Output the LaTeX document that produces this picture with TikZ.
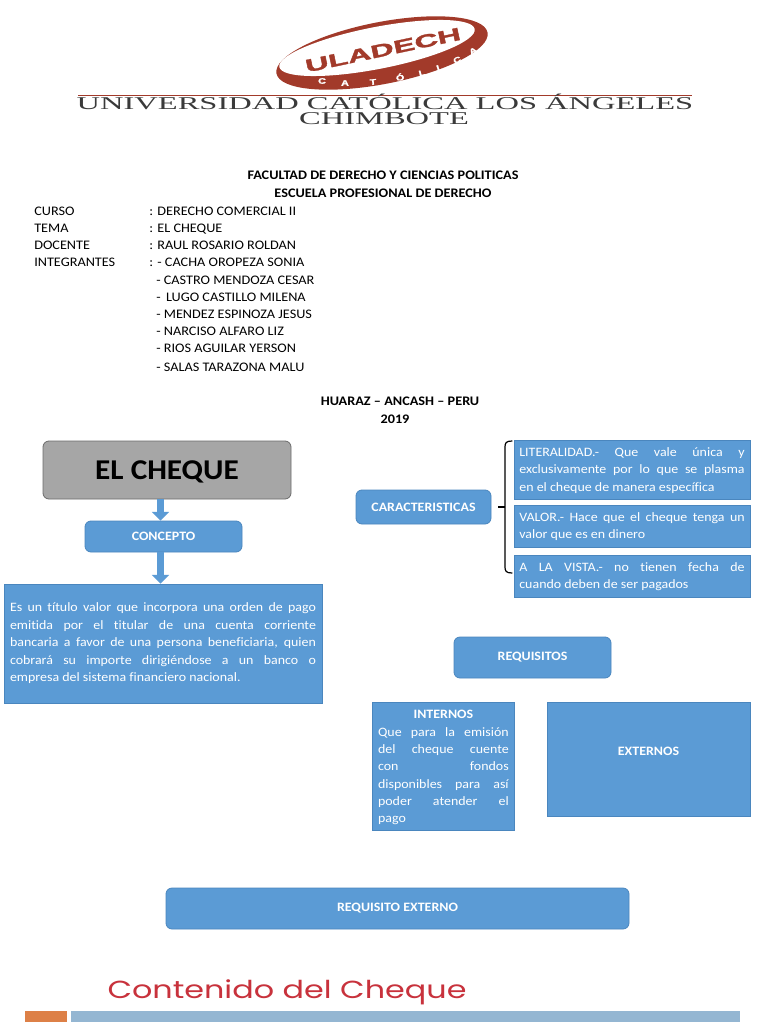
\documentclass[tikz,border=0pt]{standalone}
\usepackage{fontspec}
\usepackage{graphicx}
\setmainfont{Carlito}[FakeStretch=1.09,Ligatures=NoCommon]
\newfontfamily\serifhead{Liberation Serif}
\newfontfamily\logofont{Liberation Sans}[BoldFeatures={FakeBold=1.5}]
\newfontfamily\gothic{Poppins}
\usetikzlibrary{arrows.meta}
\definecolor{boxblue}{HTML}{5B9BD5}
\definecolor{boxedge}{HTML}{4A86BE}
\definecolor{logored}{HTML}{A23A2A}
\definecolor{titlegrey}{HTML}{3A3A3A}
\definecolor{barblue}{HTML}{94B6D2}
\definecolor{barorange}{HTML}{DD8047}
\definecolor{banred}{HTML}{C8323C}
\newcommand{\jl}[1]{\hbox to\hsize{\spaceskip=.22em plus 10em\relax #1}}
\tikzset{
  x=.75pt,y=-.75pt,
  flatbox/.style={draw=boxedge,line width=.6pt,fill=boxblue,text=white,inner sep=0pt,font=\fontsize{9.6}{13}\selectfont,align=center},
  roundbox/.style={flatbox,rounded corners=4.5pt,font=\fontsize{9.6}{13}\selectfont\bfseries},
  headtext/.style={inner sep=0pt,font=\fontsize{9.8}{12}\selectfont\bfseries,text=black},
  listtext/.style={inner sep=0pt,anchor=base west,font=\fontsize{9.8}{12}\selectfont,text=black},
  blockarrow/.style={draw=boxblue,line width=5.2pt,-{Triangle[width=12.5pt,length=6.5pt]}},
  logoletter/.style={inner sep=0pt,text=white,font=\fontsize{6}{7}\selectfont\bfseries\logofont},
  serifline/.style={inner sep=0pt,anchor=base,text=titlegrey,font=\fontsize{15}{15}\selectfont\serifhead},
}
\begin{document}
\begin{tikzpicture}
\useasboundingbox (0,0) rectangle (768,1024);
\fill[white] (0,0) rectangle (768,1024);
% logo
\fill[logored,rotate around={11:(382,53)}] (382,53) ellipse [x radius=107.5,y radius=31];
\fill[white,rotate around={11:(377,48)}] (377,48) ellipse [x radius=99.5,y radius=21];
\node[inner sep=0pt,rotate=12,text=logored,font=\fontsize{13.5}{15}\selectfont\bfseries\logofont] (logoword) at (383,50) {\scalebox{1.8}[1]{ULADECH}};
\foreach \nm/\lx/\ly/\lr/\lt in {a/322/81/0/C,b/345/83/0/A,c/373/82/5/T,d/400/77/10/Ó,e/422/73/14/L,f/438/68/18/I,g/457/60/24/C,h/473/51/30/A}
  \node[logoletter,rotate=\lr] (cat\nm) at (\lx,\ly) {\scalebox{1.35}[1]{\lt}};
\draw[logored,line width=.7pt] (78,95) -- (692,95);
\node[serifline] (univ) at (385,109.5) {\scalebox{1.625}[.9]{UNIVERSIDAD CATÓLICA LOS ÁNGELES}};
\node[serifline] (chim) at (384,124) {\scalebox{1.625}[.9]{CHIMBOTE}};
% header
\node[headtext] (fac) at (383,175) {FACULTAD DE DERECHO Y CIENCIAS POLITICAS};
\node[headtext] (esc) at (383,193) {ESCUELA PROFESIONAL DE DERECHO};
\foreach \nm/\ty/\ta/\tb in {
  l1/215/CURSO/: DERECHO COMERCIAL II,
  l2/232/TEMA/: EL CHEQUE,
  l3/249/DOCENTE/: RAUL ROSARIO ROLDAN,
  l4/266/INTEGRANTES/: - CACHA OROPEZA SONIA}{
  \node[listtext] (\nm a) at (34,\ty) {\ta};
  \node[listtext] (\nm b) at (149,\ty) {\tb};
}
\node[listtext] (m1) at (156,284) {- CASTRO MENDOZA CESAR};
\node[listtext] (m2) at (156,301) {- \,LUGO CASTILLO MILENA};
\node[listtext] (m3) at (156,318) {- MENDEZ ESPINOZA JESUS};
\node[listtext] (m4) at (156,335) {- NARCISO ALFARO LIZ};
\node[listtext] (m5) at (156,352) {- RIOS AGUILAR YERSON};
\node[listtext] (m6) at (156,371) {- SALAS TARAZONA MALU};
\node[headtext] (lug) at (400,401) {HUARAZ – ANCASH – PERU};
\node[headtext] (anio) at (395,419) {2019};
% left column
\node[roundbox,draw=gray!85!black,fill=black!35,text=black,minimum width=186pt,minimum height=43.5pt,font=\fontsize{21.5}{24}\selectfont\bfseries] (cheque) at (167,470) {\raisebox{-6.8pt}[0pt][0pt]{EL CHEQUE}};
\node[roundbox,minimum width=117.75pt,minimum height=23.25pt] (concepto) at (163.5,536.5) {CONCEPTO};
\node[flatbox,minimum width=238.5pt,minimum height=89.25pt] (def) at (163,643.5) {%
  \begin{minipage}{229.5pt}\fontsize{9.6}{13.1}\selectfont
  \jl{Es un título valor que incorpora una orden de pago}
  \jl{emitida por el titular de una cuenta corriente}
  \jl{bancaria a favor de una persona beneficiaria, quien}
  \jl{cobrará su importe dirigiéndose a un banco o}
  \hbox{empresa del sistema financiero nacional.}
  \end{minipage}};
\draw[blockarrow] (cheque.south -| concepto.north) ++(-3,0) coordinate (a1s) -- (a1s |- concepto.north);
\draw[blockarrow] (concepto.south) ++(-3,0) coordinate (a2s) -- (a2s |- def.north);
% right column
\node[roundbox,minimum width=101.25pt,minimum height=25.5pt] (carac) at (423.5,507) {CARACTERISTICAS};
\node[flatbox,minimum width=177pt,minimum height=44.25pt] (lit) at (632,469.5) {%
  \begin{minipage}{169pt}\fontsize{9.6}{13}\selectfont
  \vspace{1.5pt}
  \jl{LITERALIDAD.- Que vale única y}
  \jl{exclusivamente por lo que se plasma}
  \hbox{en el cheque de manera específica}
  \end{minipage}};
\node[flatbox,minimum width=177pt,minimum height=31.5pt] (val) at (632,526) {%
  \begin{minipage}{169pt}\fontsize{9.6}{13}\selectfont
  \vspace{.8pt}
  \jl{VALOR.- Hace que el cheque tenga un}
  \hbox{valor que es en dinero}
  \end{minipage}};
\node[flatbox,minimum width=177pt,minimum height=31.5pt] (vis) at (632,576) {%
  \begin{minipage}{169pt}\fontsize{9.6}{13}\selectfont
  \vspace{.8pt}
  \jl{A LA VISTA.- no tienen fecha de}
  \hbox{cuando deben de ser pagados}
  \end{minipage}};
\draw[black,line width=.9pt,line cap=round] (512,441) .. controls (506,441) and (505,443) .. (505,447) -- (505,567) .. controls (505,571) and (506,573) .. (512,573);
\draw[black,line width=.9pt] (498,507) -- (505,507);
\node[roundbox,minimum width=117.75pt,minimum height=30.75pt] (req) at (532.5,657.5) {REQUISITOS};
\node[flatbox,minimum width=106.5pt,minimum height=96pt,anchor=north west] (int) at (372,702) {%
  \begin{minipage}[t][94pt][t]{98pt}\fontsize{9.6}{13}\selectfont
  \vspace{5pt}
  \hbox to\hsize{\hfil\bfseries INTERNOS\hfil}
  \jl{Que para la emisión}
  \jl{del cheque cuente}
  \jl{con \hfill fondos}
  \jl{disponibles para así}
  \jl{poder atender el}
  \hbox{pago}
  \end{minipage}};
\node[flatbox,minimum width=152.25pt,minimum height=85.5pt,font=\fontsize{9.6}{13}\selectfont\bfseries] (ext) at (648.5,759) {\raisebox{3pt}[0pt][0pt]{EXTERNOS}};
\node[roundbox,minimum width=347.25pt,minimum height=30.75pt] (reqext) at (397.5,908.5) {REQUISITO EXTERNO};
% bottom banner
\node[inner sep=0pt,text=banred,font=\fontsize{18.5}{20}\selectfont\gothic] (cont) at (287,992) {\scalebox{1.29}[1]{Contenido del Cheque}};
\fill[barorange] (25,1011) rectangle (67,1022);
\fill[barblue] (71,1011) rectangle (740,1022);
\end{tikzpicture}
\end{document}
